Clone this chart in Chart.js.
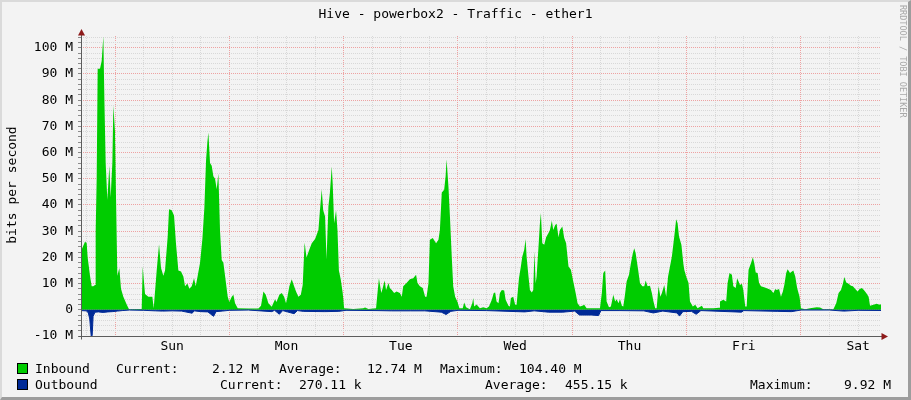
<!DOCTYPE html>
<html>
<head>
<meta charset="utf-8">
<script src="https://cdn.jsdelivr.net/npm/chart.js@4.4.1/dist/chart.umd.min.js"></script>
<style>
  html, body { margin: 0; padding: 0; }
  body {
    width: 911px; height: 400px; position: relative; overflow: hidden;
    background: #f3f3f3; font-family: "DejaVu Sans Mono", monospace; color: #000;
  }
  #graph { position: absolute; left: 0; top: 0; }
  #frame {
    position: absolute; left: 0; top: 0; width: 911px; height: 400px; box-sizing: border-box;
    border-left: 2px solid #dadada; border-top: 2px solid #dadada;
    border-right: 3px solid #9d9d9d; border-bottom: 3px solid #9d9d9d; pointer-events: none;
  }
  .t { position: absolute; white-space: pre; font-size: 13px; line-height: 15px; }
  #title { left: 0; top: 6px; width: 911px; text-align: center; }
  #ylabel { left: 11px; top: 185px; transform: translate(-50%, -50%) rotate(-90deg); }
  #credit {
    position: absolute; left: 898px; top: 5px; font-size: 8.5px; color: #a8a8a8;
    writing-mode: vertical-rl; white-space: pre;
  }
  .sw { position: absolute; left: 17px; width: 9px; height: 9px; border: 1px solid #000; }
</style>
</head>
<body>
<canvas id="graph" width="911" height="400"></canvas>
<div class="t" id="title">Hive - powerbox2 - Traffic - ether1</div>
<div class="t" id="ylabel">bits per second</div>
<div id="credit">RRDTOOL / TOBI OETIKER</div>
<div id="legend"></div>
<div id="frame"></div>
<script>
// hours relative to Sunday 00:00, values in M bits per second
const dayNames = ['Sun', 'Mon', 'Tue', 'Wed', 'Thu', 'Fri', 'Sat'];

const inHours = [
  -7.14, -7.0, -6.3, -5.95, -5.74, -5.25, -4.9, -4.55, -4.2, -4.06, -3.85, -3.64, -3.15, -2.8, -2.45, -2.24,
  -1.96, -1.61, -1.19, -0.91, -0.56, -0.35, 0, 0.21, 0.49, 0.91, 1.26, 1.75, 2.45, 2.94, 4.9, 5.6,
  5.81, 6.3, 7.0, 7.84, 8.12, 8.75, 9.24, 9.66, 10.15, 10.5, 11.06, 11.34, 11.9, 12.39, 12.81, 13.3,
  13.86, 14.35, 14.7, 15.19, 15.61, 16.1, 16.59, 16.94, 17.36, 17.85, 18.34, 18.76, 19.11, 19.39, 19.6, 19.95,
  20.3, 20.65, 21.0, 21.35, 21.7, 22.05, 22.4, 22.75, 23.24, 23.66, 24.0, 24.5, 24.85, 25.2, 25.76, 28.0,
  30.1, 30.65, 31.15, 31.64, 32.2, 32.9, 33.6, 33.9, 34.5, 35.0, 35.5, 35.9, 36.2, 36.6, 37.1, 37.6,
  38.0, 38.5, 39.0, 39.4, 39.8, 40.2, 40.8, 41.3, 42.0, 42.7, 43.0, 43.4, 43.7, 44.1, 44.4, 44.8,
  45.1, 45.5, 45.7, 46.0, 46.4, 46.7, 47.0, 47.4, 47.8, 48.1, 50.0, 52.1, 52.5, 53.2, 54.8, 55.1,
  55.4, 55.9, 56.2, 56.6, 56.9, 57.4, 57.7, 58.1, 58.6, 59.1, 59.8, 60.2, 60.5, 61.2, 61.9, 62.6,
  63.2, 63.5, 64.0, 64.6, 65.1, 65.4, 65.8, 66.1, 66.7, 67.4, 67.9, 68.2, 68.6, 69.1, 69.4, 69.6,
  70.0, 70.3, 70.7, 71.0, 71.4, 71.9, 72.3, 73.0, 73.3, 73.7, 74.5, 75.0, 75.2, 75.4, 75.9, 76.6,
  77.3, 78.0, 78.5, 79.1, 79.5, 79.8, 80.1, 80.5, 80.8, 81.2, 81.7, 82.0, 82.6, 82.9, 83.1, 83.6,
  84.0, 84.3, 84.8, 85.2, 85.5, 85.9, 86.2, 86.4, 86.8, 87.1, 87.5, 87.8, 88.05, 88.3, 88.5, 88.9,
  89.2, 89.4, 89.7, 90.1, 90.5, 91.0, 91.3, 91.7, 92.0, 92.4, 92.7, 93.1, 93.4, 93.9, 94.3, 94.7,
  95.2, 95.7, 96.2, 96.7, 97.1, 97.6, 98.1, 98.5, 99.0, 101.8, 102.2, 102.5, 102.9, 103.2, 103.7, 104.1,
  104.6, 105.0, 105.3, 105.7, 106.0, 106.4, 106.7, 107.0, 107.4, 107.9, 108.3, 108.7, 109.0, 109.3, 109.8, 110.2,
  110.7, 111.1, 111.4, 111.8, 112.3, 112.7, 113.0, 113.4, 113.7, 114.1, 114.5, 114.8, 115.3, 115.7, 116.1, 116.5,
  116.9, 117.4, 117.8, 118.1, 118.4, 118.9, 119.3, 119.5, 119.9, 120.4, 120.7, 121.3, 121.8, 122.3, 123.2, 123.5,
  124.9, 125.6, 126.8, 127.0, 127.7, 128.3, 128.6, 129.0, 129.5, 129.8, 130.3, 130.6, 130.9, 131.2, 131.6, 131.9,
  132.3, 132.6, 133.0, 133.5, 133.9, 134.2, 134.5, 134.9, 135.2, 135.6, 136.1, 136.7, 137.2, 137.7, 138.2, 138.6,
  138.9, 139.4, 139.8, 140.2, 140.5, 140.9, 141.2, 141.7, 142.1, 142.4, 142.8, 143.2, 143.7, 144.0, 144.9, 145.9,
  147.3, 148.0, 148.7, 150.8, 151.4, 151.9, 152.4, 152.8, 153.1, 153.5, 154.0, 154.5, 154.9, 155.4, 155.9, 156.3,
  156.8, 157.2, 157.7, 158.2, 158.5, 159.2, 159.9, 160.5, 160.8
];
const inbound = [
  22, 23, 26, 25.5, 20, 13, 9, 9, 9.5, 30, 50, 92, 92, 95, 104.4, 81,
  56, 42, 55, 43, 56, 78, 68, 43, 13, 16, 8, 5, 2, 0.2, 0.3, 0.3,
  16.5, 6, 5, 5, 0.6, 15, 25, 16, 13, 15, 28, 38.4, 38, 36, 25, 15,
  14.6, 12.7, 9, 10, 8, 9, 12, 9, 13, 18, 27, 39, 57, 64, 67.7, 56,
  55, 51, 50, 46, 52, 30, 19, 18, 11, 5, 3, 5, 5.7, 2.5, 0.6, 0.5,
  0.5, 1.5, 7, 5.7, 2.5, 1.2, 4, 3, 5.7, 6.4, 5, 2.5, 5, 9, 11.7, 9,
  7, 5, 5.7, 9.5, 25.7, 20, 23, 25.4, 27, 30.5, 37.5, 46, 38, 35.6, 19.3, 39.4,
  44.5, 54.7, 48, 33, 38, 30.5, 15, 11.5, 6.4, 0.6, 0.3, 0.6, 0.9, 0.3, 0.6, 6.4,
  12, 6.4, 8.3, 11.2, 7.6, 10.2, 8.3, 7.6, 6.4, 7, 6.4, 5, 9, 10.2, 11.7, 12,
  13.4, 10.2, 9, 8.3, 5, 5, 10, 26.7, 27.4, 25.4, 26.7, 30.5, 44.8, 45.8, 51, 57.5,
  47, 36, 20, 9, 5, 3, 0.6, 0.6, 2.8, 1, 0.2, 2.5, 4.5, 1.3, 2, 0.6,
  1, 0.6, 1.3, 3.8, 6.4, 6.6, 3.2, 2.5, 6.4, 7.6, 7.4, 3.8, 1.5, 1.3, 4.5, 5,
  1.9, 1.9, 12, 16.5, 20.3, 22.9, 27, 20.3, 12.7, 7.6, 6.6, 7.6, 22.3, 10, 12.7, 24,
  33, 36.9, 25.4, 24.8, 27.7, 29.3, 30.5, 34, 30.5, 32.4, 32.8, 27.7, 30.5, 31.8, 27.4, 25.4,
  16.5, 15.3, 10.8, 6.4, 2.5, 1.3, 1.5, 1.9, 0.6, 0.6, 6.4, 14, 15, 3.2, 1, 1.3,
  5.7, 3.2, 4, 2.5, 4, 1.5, 1.3, 5, 10.8, 13.4, 17.8, 21.6, 23.5, 21.6, 15.5, 10.2,
  9, 9, 11.2, 9, 9.2, 6.4, 3.5, 0.6, 0.6, 9, 5, 6.4, 9.5, 5, 12.7, 16.5,
  20.3, 28, 34.6, 33, 28, 24.8, 17.8, 15.3, 12.7, 10.2, 3.2, 1.3, 1.9, 0.6, 1.5, 0.6,
  0.6, 0.6, 0.8, 3.2, 3.8, 3.2, 10.2, 14, 13.4, 9, 8.3, 12, 10.8, 9.5, 9.9, 7.6,
  1.3, 1.3, 15.3, 17.8, 20.1, 17.8, 14.2, 14, 10.2, 9, 8.7, 8.3, 7.9, 7.6, 6.4, 7.9,
  7.6, 7.9, 5, 7, 9.5, 14, 15.5, 14, 14.6, 15, 12.7, 8.3, 5, 0.6, 0.2, 0.6,
  1, 0.9, 0.2, 0.2, 2.5, 6.4, 7.6, 9.9, 12.5, 10.4, 9.9, 9.2, 9, 7.9, 7, 7.9,
  8.3, 7.6, 6.4, 5, 1.5, 1.9, 2.3, 1.9, 2.12
];

const outHours = [
  -7.14, -6.0, -5.6, -5.3, -5.0, -4.8, -4.6, -4.2, -3.5, -2.5, -1.5, -0.5, 0.5, 1.5, 3, 6,
  8.5, 10, 12, 14, 16.2, 16.6, 18, 19.5, 20.7, 21.2, 22.5, 24, 28, 32.9, 33.5, 34.5,
  35.2, 37.6, 38.3, 39.5, 44, 47, 48.5, 55, 58, 62, 65, 68.5, 69.5, 70.5, 72, 78,
  86, 88, 91, 94, 96.5, 97.5, 100, 101.5, 102, 106, 111, 113, 115, 118, 118.5, 119.2,
  121, 122, 123, 131.5, 132, 139, 142, 144, 150, 153, 156, 160.8
];
const outbound = [
  0.3, 0.4, 1.2, 3.5, 10, 9.9, 2.5, 0.9, 0.8, 1.0, 0.8, 0.7, 0.5, 0.3, 0.1, 0.2,
  0.4, 0.5, 0.4, 0.5, 1.3, 0.4, 0.7, 0.8, 2.5, 0.7, 0.5, 0.2, 0.1, 0.7, 0.2, 1.7,
  0.3, 1.5, 0.3, 0.6, 0.7, 0.6, 0.2, 0.3, 0.4, 0.4, 0.4, 0.9, 1.8, 0.6, 0.2, 0.3,
  0.8, 0.4, 0.9, 0.9, 0.5, 2.0, 2.0, 2.2, 0.3, 0.3, 0.4, 1.2, 0.5, 1.2, 2.4, 0.7,
  0.6, 1.7, 0.3, 0.9, 0.3, 0.6, 0.7, 0.1, 0.1, 0.5, 0.2, 0.27
];

// axis grid: every 6 hours on x, every 2 M on y
const xGrid = [-6, 0, 6, 12, 18, 24, 30, 36, 42, 48, 54, 60, 66, 72, 78, 84, 90, 96, 102, 108, 114,
  120, 126, 132, 138, 144, 150, 156];
const yGrid = [-10, -8, -6, -4, -2, 0, 2, 4, 6, 8, 10, 12, 14, 16, 18, 20, 22, 24, 26, 28, 30, 32, 34,
  36, 38, 40, 42, 44, 46, 48, 50, 52, 54, 56, 58, 60, 62, 64, 66, 68, 70, 72, 74, 76, 78, 80, 82, 84,
  86, 88, 90, 92, 94, 96, 98, 100, 102, 104];

// legend text: [text, left px]
const legendIn = [['Inbound', 35], ['Current:', 116], ['2.12 M', 212], ['Average:', 279], ['12.74 M', 367],
  ['Maximum:', 440], ['104.40 M', 519]];
const legendOut = [['Outbound', 35], ['Current:', 220], ['270.11 k', 299], ['Average:', 485], ['455.15 k', 565],
  ['Maximum:', 750], ['9.92 M', 844]];

const legendEl = document.getElementById('legend');
function addLegendRow(items, top, color) {
  const sw = document.createElement('div');
  sw.className = 'sw';
  sw.style.top = (top + 2) + 'px';
  sw.style.background = color;
  legendEl.appendChild(sw);
  items.forEach(([text, left]) => {
    const s = document.createElement('div');
    s.className = 't';
    s.textContent = text;
    s.style.left = left + 'px';
    s.style.top = top + 'px';
    legendEl.appendChild(s);
  });
}
addLegendRow(legendIn, 361, '#00cc00');
addLegendRow(legendOut, 377, '#002a97');

const axisArrows = {
  id: 'axisArrows',
  afterDraw(chart) {
    const { ctx, chartArea: a } = chart;
    const x0 = Math.round(a.left) + 0.5, y0 = Math.round(a.bottom) + 0.5;
    ctx.save();
    ctx.strokeStyle = '#5c5c5c';
    ctx.lineWidth = 1;
    ctx.beginPath();
    ctx.moveTo(x0, y0 + 3); ctx.lineTo(x0, a.top - 2);
    ctx.moveTo(x0 - 3, y0); ctx.lineTo(a.right + 2, y0);
    ctx.stroke();
    ctx.fillStyle = '#8e1a1a';
    ctx.beginPath();
    ctx.moveTo(x0, a.top - 7); ctx.lineTo(x0 - 3.5, a.top - 0.5); ctx.lineTo(x0 + 3.5, a.top - 0.5);
    ctx.closePath(); ctx.fill();
    ctx.beginPath();
    ctx.moveTo(a.right + 7, y0); ctx.lineTo(a.right + 0.5, y0 - 3.5); ctx.lineTo(a.right + 0.5, y0 + 3.5);
    ctx.closePath(); ctx.fill();
    ctx.restore();
  }
};

const majorColor = '#eea2a2';
const minorColor = '#d8d8d8';
const tickFont = { family: 'DejaVu Sans Mono', size: 13 };

new Chart(document.getElementById('graph'), {
  type: 'line',
  data: {
    datasets: [
      {
        label: 'Inbound',
        data: inHours.map((h, i) => ({ x: h, y: inbound[i] })),
        fill: 'origin',
        backgroundColor: '#00cc00',
        borderWidth: 0,
        pointRadius: 0,
        order: 1,
      },
      {
        label: 'Outbound',
        data: outHours.map((h, i) => ({ x: h, y: -outbound[i] })),
        fill: 'origin',
        backgroundColor: '#002a97',
        borderColor: '#002a97',
        borderWidth: 1,
        pointRadius: 0,
        order: 0,
      },
    ],
  },
  options: {
    responsive: false,
    animation: false,
    devicePixelRatio: 1,
    layout: { padding: { left: 0, top: 36, right: 30, bottom: 44 } },
    plugins: { legend: { display: false }, tooltip: { enabled: false } },
    scales: {
      x: {
        type: 'linear',
        min: -7.14,
        max: 160.8,
        afterBuildTicks: (s) => { s.ticks = xGrid.map((v) => ({ value: v })); },
        afterFit: (s) => { s.height = 20; },
        grid: {
          color: (c) => (c.tick && c.tick.value % 24 === 0 ? majorColor : minorColor),
          drawTicks: false,
        },
        border: { display: false, dash: [1, 1] },
        ticks: {
          autoSkip: false,
          maxRotation: 0,
          padding: 3,
          color: '#000',
          font: tickFont,
          callback: (v) => (((v % 24) + 24) % 24 === 12 ? dayNames[Math.floor(v / 24)] : ''),
        },
      },
      y: {
        min: -10,
        max: 104.5,
        afterBuildTicks: (s) => { s.ticks = yGrid.map((v) => ({ value: v })); },
        afterFit: (s) => { s.width = 81; },
        grid: {
          color: (c) => (c.tick && c.tick.value % 10 === 0 ? majorColor : minorColor),
          drawTicks: true,
          tickLength: 3,
          tickColor: '#8a8a8a',
        },
        border: { display: false, dash: [1, 1] },
        ticks: {
          autoSkip: false,
          padding: 5,
          color: '#000',
          font: tickFont,
          callback: (v) => (v % 10 === 0 ? (v === 0 ? '0' : v + ' M') : ''),
        },
      },
    },
  },
  plugins: [axisArrows],
});
</script>
</body>
</html>
